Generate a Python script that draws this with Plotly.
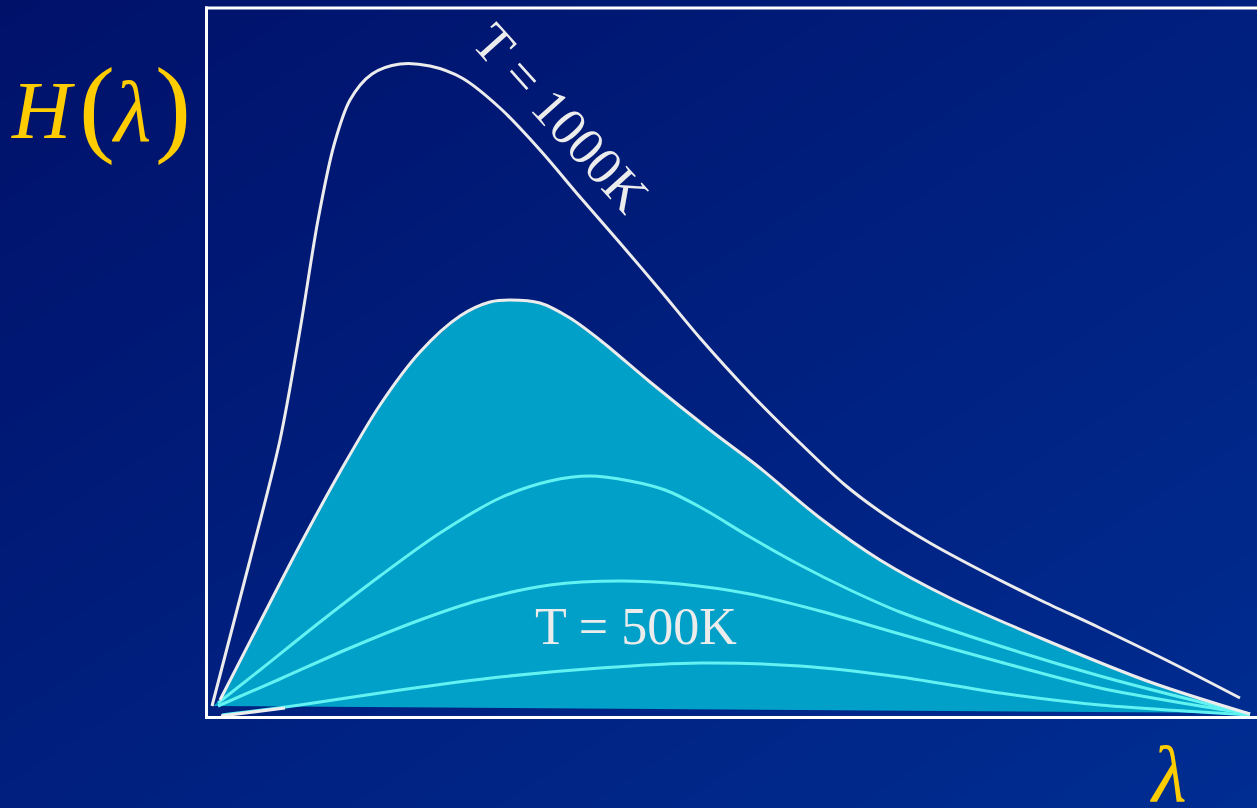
import plotly.graph_objects as go

W, H = 1257, 808

# ---- data (wavelength, arbitrary units; intensity, arbitrary units) ----
t1000_x = [0.05, 0.43, 0.73, 0.93, 1.11, 1.27, 1.43, 1.65, 1.93, 2.23, 2.55, 2.93, 3.33, 3.73,
           4.13, 4.53, 4.93, 5.43, 5.93, 6.38, 6.78, 7.23, 7.73, 8.33, 8.93, 9.63, 10.33]
t1000_y = [0.11, 1.57, 2.77, 3.87, 4.97, 5.72, 6.17, 6.43, 6.53, 6.51, 6.39, 6.09, 5.67, 5.20,
           4.74, 4.27, 3.79, 3.24, 2.74, 2.32, 2.02, 1.74, 1.47, 1.17, 0.89, 0.55, 0.19]

t2_x = [0.13, 0.53, 0.93, 1.33, 1.73, 2.13, 2.53, 2.83, 3.03, 3.33, 3.63, 3.93, 4.43, 5.03, 5.53,
        6.13, 6.73, 7.43, 8.43, 9.43, 10.43]
t2_y = [0.17, 0.95, 1.72, 2.45, 3.12, 3.65, 4.01, 4.15, 4.17, 4.14, 3.99, 3.77, 3.35, 2.87, 2.49,
        1.99, 1.57, 1.19, 0.75, 0.35, 0.03]

t3_x = [0.11, 0.53, 1.13, 1.73, 2.33, 2.93, 3.43, 3.83, 4.23, 4.58, 4.93, 5.43, 5.93, 6.43, 6.93,
        7.93, 8.93, 9.93, 10.43]
t3_y = [0.14, 0.47, 0.95, 1.41, 1.84, 2.19, 2.36, 2.41, 2.36, 2.27, 2.10, 1.80, 1.52, 1.27, 1.05,
        0.71, 0.41, 0.15, 0.03]

t4_x = [0.11, 0.73, 1.43, 2.13, 2.73, 3.43, 4.13, 4.73, 5.43, 6.13, 6.93, 7.93, 8.93, 9.93, 10.43]
t4_y = [0.11, 0.38, 0.69, 0.97, 1.17, 1.32, 1.36, 1.33, 1.23, 1.06, 0.83, 0.55, 0.29, 0.11, 0.03]

t500_x = [0.15, 0.93, 1.93, 2.93, 3.93, 4.93, 5.93, 6.93, 7.93, 8.93, 9.93, 10.43]
t500_y = [0.02, 0.12, 0.27, 0.40, 0.49, 0.54, 0.51, 0.40, 0.24, 0.12, 0.05, 0.02]

# bottom edge of the shaded region (right end, left end)
base_x = [10.43, 0.06]
base_y = [0.04, 0.11]
# short white outline piece at the lower-left of the shaded region
outline_x = [0.14, 0.78]
outline_y = [0.01, 0.09]

label_1000 = "T = 1000K"
label_500 = "T = 500K"

WHITE = "#ececec"
CYAN = "#62f2f2"
FILL = "#01a0c8"
GOLD = "#ffcc00"

fig = go.Figure()

# background gradient (full paper)
fig.add_trace(go.Heatmap(
    z=[[1, 2], [0, 1]], x=[0, 1], y=[0, 1], zsmooth="best", showscale=False,
    colorscale=[[0, "#00116a"], [1, "#002d92"]], hoverinfo="skip",
    xaxis="x", yaxis="y"))

# shaded region
fig.add_trace(go.Scatter(x=t2_x + base_x, y=t2_y + base_y, fill="toself", fillcolor=FILL,
                         mode="lines", line=dict(width=0), xaxis="x2", yaxis="y2",
                         hoverinfo="skip"))

for xs, ys, col in [(t500_x, t500_y, CYAN), (t4_x, t4_y, CYAN), (t3_x, t3_y, CYAN),
                    (outline_x, outline_y, WHITE),
                    (t2_x, t2_y, WHITE), (t1000_x, t1000_y, WHITE)]:
    fig.add_trace(go.Scatter(x=xs, y=ys, mode="lines",
                             line=dict(color=col, width=3, shape="spline", smoothing=0.9),
                             xaxis="x2", yaxis="y2", hoverinfo="skip"))

x0p = 207 / W
y0p = 1 - 717 / H
y1p = 1 - 8 / H

fig.update_layout(
    width=W, height=H, margin=dict(l=0, r=0, t=0, b=0),
    paper_bgcolor="#001a7a", plot_bgcolor="rgba(0,0,0,0)",
    showlegend=False,
    xaxis=dict(domain=[0, 1], range=[0, 1], visible=False, fixedrange=True),
    yaxis=dict(domain=[0, 1], range=[0, 1], visible=False, fixedrange=True),
    xaxis2=dict(domain=[x0p, 1], range=[0, 10.5], visible=False, anchor="y2"),
    yaxis2=dict(domain=[y0p, y1p], range=[0, 7.09], visible=False, anchor="x2"),
)

# frame (left, top, bottom)
frame = dict(color="white", width=3)
fig.add_shape(type="line", xref="paper", yref="paper", x0=206.5 / W, x1=206.5 / W,
              y0=1 - 718.5 / H, y1=1 - 6.5 / H, line=frame)
fig.add_shape(type="line", xref="paper", yref="paper", x0=205 / W, x1=1.0,
              y0=1 - 8 / H, y1=1 - 8 / H, line=frame)
fig.add_shape(type="line", xref="paper", yref="paper", x0=205 / W, x1=1.0,
              y0=1 - 717.5 / H, y1=1 - 717.5 / H, line=frame)

serif = "Liberation Serif, Times New Roman, serif"

def ann(text, px, py, size, color, angle=0):
    fig.add_annotation(text=text, x=px / W, y=1 - py / H, xref="paper", yref="paper",
                       showarrow=False, xanchor="center", yanchor="middle", textangle=angle,
                       font=dict(family=serif, size=size, color=color))

ann("<i>H</i>", 43, 110, 82, GOLD)
ann("(", 97, 106, 108, GOLD)
ann("<i>λ</i>", 131, 112, 86, GOLD)
ann(")", 173, 106, 108, GOLD)
ann("<i>λ</i>", 1168, 774, 80, GOLD)

ann(label_1000, 561, 118, 53, WHITE, angle=48)
ann(label_500, 636, 626, 52, WHITE)

fig.write_html(
    "out.html",
    config={"displayModeBar": False},
    post_script="document.body.style.margin='0';document.body.style.background='#001470';",
)
